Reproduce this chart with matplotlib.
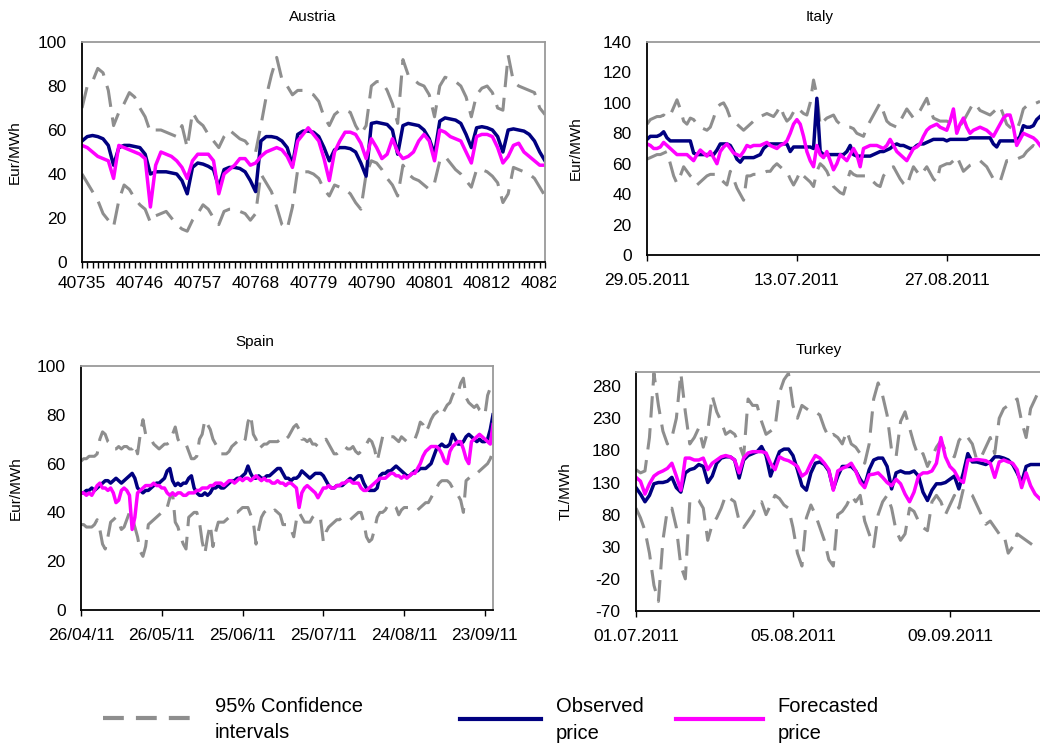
import numpy as np
import matplotlib
matplotlib.use("Agg")
import matplotlib.pyplot as plt
import matplotlib.dates as mdates
from matplotlib.ticker import MultipleLocator
from matplotlib.transforms import Bbox, TransformedBbox

plt.rcParams['font.family'] = ['Liberation Sans', 'DejaVu Sans']
plt.rcParams['axes.unicode_minus'] = False

# ---------------- data (one value per day) ----------------
# Austria, x axis is the Excel day number
at_start = 40735
at_obs = [55, 57, 57.5, 57, 56, 53, 44, 52, 53, 53,
          52.5, 52, 49, 40, 41, 41, 41, 40.5, 40, 37,
          31, 43, 45, 44.5, 43.5, 42, 34, 42, 43, 43,
          42.5, 41, 37, 32, 55, 57, 57, 56.5, 55, 52,
          44, 58, 59.5, 59.5, 59, 57, 52, 46, 51, 52,
          52, 51.5, 50, 45, 39, 63, 63.5, 63, 62.5, 60,
          49, 62, 63, 62.5, 62, 60, 56, 49, 64, 65.5,
          65, 64.5, 63, 58, 52, 61, 61.5, 61, 60, 57,
          50, 60, 60.5, 60, 59.5, 58, 55, 50, 46]
at_fc = [53, 52, 50, 48, 47, 46, 38, 53, 52, 51,
         50, 49, 47, 25, 44, 50, 49, 48, 46, 43,
         38, 46, 49, 49, 49, 46, 31, 40, 42, 44,
         47, 47, 44, 45, 48, 50, 51, 52, 51, 48,
         43, 55, 58, 61, 58, 55, 47, 37, 50, 55,
         59, 59, 58, 54, 47, 56, 52, 47, 49, 56,
         50, 47, 48, 50, 55, 58, 55, 46, 60, 59,
         57, 56, 55, 50, 45, 57, 58, 58, 57, 52,
         45, 48, 53, 54, 50, 48, 46, 44, 44]
at_up = [70, 80, 82, 88, 86, 78, 62, 68, 72, 77,
         75, 70, 66, 59, 60, 60, 59, 58, 57, 62,
         52, 68, 64, 62, 58, 55, 52, 57, 60, 58,
         56, 55, 52, 50, 62, 75, 85, 93, 83, 80,
         76, 78, 78, 77, 76, 73, 66, 62, 67, 69,
         69, 68, 62, 58, 62, 80, 82, 82, 78, 72,
         63, 92, 85, 83, 81, 80, 76, 66, 80, 84,
         83, 82, 80, 75, 66, 76, 79, 80, 77, 70,
         69, 94, 82, 80, 79, 78, 77, 70, 67]
at_lo = [40, 36, 32, 28, 22, 19, 16, 28, 35, 33,
         29, 26, 24, 18, 21, 22, 23, 20, 17, 15,
         14, 19, 22, 26, 24, 20, 17, 23, 24, 24,
         23, 22, 19, 22, 40, 36, 32, 25, 17, 15,
         25, 42, 41, 41, 40, 38, 33, 30, 35, 34,
         33, 31, 27, 24, 40, 46, 45, 42, 38, 35,
         30, 44, 40, 38, 37, 35, 33, 36, 46, 48,
         45, 42, 40, 37, 34, 42, 42, 41, 39, 36,
         27, 31, 43, 42, 41, 40, 38, 34, 30]

# Italy, daily from 29.05.2011
it_start = '2011-05-29'
it_obs = [76, 78, 78, 78, 79, 81, 77, 75, 75, 75,
          75, 75, 75, 75, 67, 66, 66, 66, 66, 66,
          66, 69, 73, 73, 73, 72, 68, 63, 61, 64,
          64, 64, 64, 65, 66, 70, 72, 73, 73, 73,
          73, 73, 73, 68, 71, 71, 71, 71, 71, 71,
          70, 103, 68, 66, 66, 66, 66, 66, 66, 66,
          68, 72, 66, 65, 65, 65, 65, 65, 66, 67,
          68, 68, 69, 70, 72, 73, 72, 72, 71, 70,
          70, 72, 73, 73, 74, 75, 76, 76, 76, 76,
          75, 76, 76, 76, 76, 76, 76, 77, 77, 77,
          77, 77, 77, 77, 73, 71, 75, 75, 75, 75,
          75, 75, 78, 85, 84, 84, 85, 89, 91]
it_fc = [73, 72, 70, 70, 71, 74, 72, 70, 68, 66,
         66, 66, 66, 64, 62, 66, 69, 67, 65, 68,
         64, 60, 68, 71, 73, 70, 67, 66, 65, 68,
         72, 71, 72, 72, 72, 73, 74, 72, 71, 70,
         72, 73, 75, 80, 86, 89, 86, 78, 68, 62,
         58, 72, 66, 64, 68, 62, 56, 60, 66, 64,
         62, 66, 70, 66, 58, 70, 71, 72, 72, 72,
         71, 70, 72, 76, 72, 68, 66, 64, 62, 66,
         70, 71, 73, 78, 82, 84, 85, 86, 84, 83,
         82, 88, 96, 80, 86, 90, 84, 80, 82, 83,
         84, 83, 82, 80, 78, 82, 86, 90, 92, 92,
         84, 72, 76, 80, 79, 78, 77, 75, 72]
it_up = [86, 89, 90, 91, 91, 92, 90, 92, 97, 102,
         96, 88, 86, 90, 89, 86, 84, 83, 82, 84,
         90, 97, 99, 100, 96, 90, 87, 86, 84, 82,
         84, 86, 88, 90, 91, 92, 93, 92, 91, 94,
         98, 92, 88, 90, 94, 97, 95, 93, 92, 100,
         115, 105, 85, 88, 90, 91, 92, 88, 86, 85,
         84, 84, 83, 80, 79, 78, 84, 88, 92, 96,
         100, 94, 88, 86, 85, 84, 88, 92, 96, 93,
         90, 92, 95, 99, 103, 96, 90, 89, 88, 88,
         88, 87, 86, 85, 85, 88, 92, 96, 100, 98,
         95, 94, 93, 92, 94, 96, 98, 92, 86, 84,
         83, 82, 88, 96, 98, 99, 99, 100, 101]
it_lo = [63, 64, 65, 66, 66, 67, 68, 60, 52, 47,
         52, 58, 55, 52, 50, 46, 48, 50, 52, 53,
         53, 53, 50, 48, 46, 55, 50, 44, 40, 36,
         52, 52, 53, 53, 53, 54, 55, 55, 58, 60,
         58, 56, 55, 50, 46, 50, 55, 52, 50, 48,
         45, 55, 60, 58, 55, 50, 45, 43, 41, 40,
         48, 55, 53, 52, 52, 52, 52, 50, 48, 46,
         45, 52, 55, 57, 58, 54, 50, 47, 45, 52,
         58, 55, 52, 55, 58, 54, 50, 48, 58, 59,
         60, 60, 62, 65, 60, 55, 57, 59, 60, 61,
         62, 60, 58, 54, 50, 49, 48, 55, 62, 62,
         63, 63, 64, 65, 68, 70, 72, 70, 68]

# Spain, daily from 26/04/11
sp_start = '2011-04-26'
sp_obs = [48, 48, 49, 49, 50, 49, 50, 51,
          52, 53, 53, 52, 53, 54, 53, 52,
          53, 54, 55, 56, 54, 50, 49, 48,
          49, 49, 50, 51, 52, 52, 53, 54,
          57, 58, 53, 51, 52, 51, 52, 52,
          54, 55, 50, 48, 47, 47, 48, 47,
          48, 50, 50, 51, 50, 50, 51, 52,
          53, 53, 54, 54, 55, 56, 59, 56,
          54, 54, 55, 54, 54, 55, 55, 56,
          57, 58, 58, 56, 54, 54, 53, 54,
          54, 55, 57, 56, 55, 54, 55, 56,
          56, 56, 55, 53, 51, 50, 50, 51,
          51, 51, 52, 53, 54, 53, 54, 55,
          55, 52, 50, 49, 49, 49, 50, 55,
          56, 56, 57, 57, 58, 59, 58, 57,
          56, 55, 55, 56, 57, 57, 58, 58,
          58, 59, 60, 63, 66, 67, 68, 67,
          67, 68, 72, 70, 68, 68, 69, 71,
          72, 71, 70, 69, 70, 69, 69, 70,
          74, 80]
sp_fc = [48, 48, 47, 48, 47, 49, 51, 52,
         50, 50, 49, 50, 48, 44, 45, 49,
         50, 49, 47, 33, 38, 48, 49, 50,
         51, 51, 51, 52, 51, 51, 50, 50,
         48, 47, 48, 47, 48, 48, 47, 47,
         48, 48, 48, 49, 49, 50, 50, 50,
         51, 51, 52, 52, 52, 51, 52, 53,
         53, 52, 53, 54, 53, 54, 54, 53,
         54, 55, 54, 53, 54, 53, 53, 52,
         52, 53, 52, 52, 51, 52, 52, 51,
         50, 42, 48, 50, 51, 50, 49, 48,
         46, 48, 50, 50, 51, 50, 50, 51,
         51, 52, 52, 53, 53, 52, 52, 52,
         50, 49, 49, 50, 51, 52, 53, 54,
         54, 54, 55, 56, 56, 55, 55, 54,
         55, 54, 55, 56, 56, 58, 60, 63,
         65, 66, 67, 67, 67, 66, 64, 61,
         60, 65, 67, 68, 69, 69, 66, 62,
         60, 69, 70, 71, 72, 71, 70, 69,
         68, 76]
sp_up = [61, 62, 62, 63, 63, 63, 64, 70,
         73, 72, 69, 68, 66, 66, 67, 66,
         67, 67, 66, 66, 68, 64, 72, 78,
         72, 71, 70, 68, 67, 66, 67, 68,
         68, 69, 72, 75, 70, 68, 68, 68,
         65, 62, 62, 63, 70, 72, 78, 76,
         74, 70, 68, 66, 64, 64, 64, 65,
         67, 68, 69, 69, 68, 70, 77, 80,
         72, 70, 66, 67, 68, 68, 69, 69,
         69, 69, 70, 71, 70, 71, 73, 75,
         76, 74, 70, 70, 69, 70, 68, 68,
         67, 68, 69, 70, 68, 66, 64, 64,
         65, 66, 67, 66, 66, 67, 65, 64,
         65, 66, 68, 70, 69, 66, 61, 66,
         71, 71, 70, 71, 71, 70, 69, 71,
         70, 69, 69, 69, 70, 73, 77, 76,
         73, 75, 78, 80, 81, 82, 80, 82,
         84, 85, 88, 90, 89, 93, 95, 87,
         85, 84, 83, 84, 82, 81, 80, 88,
         91, 92]
sp_lo = [35, 35, 34, 34, 34, 35, 37, 33,
         27, 25, 30, 36, 37, 38, 36, 33,
         34, 37, 40, 38, 34, 30, 24, 22,
         26, 35, 36, 37, 38, 39, 40, 40,
         42, 46, 48, 36, 34, 30, 27, 25,
         38, 39, 40, 40, 36, 28, 23, 30,
         35, 26, 32, 36, 36, 36, 37, 38,
         39, 40, 40, 41, 42, 42, 42, 39,
         36, 27, 33, 38, 40, 41, 40, 40,
         41, 40, 39, 35, 35, 35, 33, 30,
         37, 40, 38, 36, 36, 36, 38, 39,
         39, 37, 28, 32, 34, 35, 36, 37,
         37, 38, 38, 38, 37, 38, 39, 40,
         40, 36, 30, 28, 29, 33, 38, 40,
         40, 41, 43, 43, 43, 42, 39, 41,
         42, 42, 42, 42, 42, 41, 42, 43,
         44, 44, 46, 48, 50, 52, 53, 53,
         53, 52, 50, 48, 47, 45, 40, 53,
         54, 55, 55, 56, 57, 58, 59, 60,
         62, 65]

# Turkey, daily from 01.07.2011
tr_start = '2011-07-01'
tr_obs = [122, 112, 100, 110, 128, 130, 130, 132, 138, 122,
          115, 145, 150, 152, 158, 155, 130, 140, 160, 168,
          170, 170, 165, 137, 165, 172, 175, 178, 186, 172,
          140, 160, 178, 182, 182, 172, 150, 125, 118, 145,
          160, 162, 158, 148, 120, 140, 155, 155, 155, 148,
          135, 125, 150, 165, 168, 168, 155, 120, 145, 148,
          145, 145, 148, 140, 115, 102, 118, 128, 128, 130,
          135, 140, 120, 145, 175, 162, 162, 160, 158, 162,
          170, 170, 168, 165, 158, 145, 130, 155, 158, 158,
          158]
tr_fc = [138, 132, 112, 128, 140, 145, 148, 152, 160, 140,
         118, 168, 168, 165, 165, 168, 150, 160, 165, 170,
         172, 170, 165, 145, 168, 176, 178, 178, 178, 176,
         160, 150, 170, 166, 164, 160, 155, 140, 145, 160,
         172, 168, 160, 150, 118, 148, 152, 155, 160, 148,
         130, 122, 142, 143, 145, 138, 130, 125, 135, 128,
         112, 100, 115, 140, 145, 145, 148, 160, 200, 170,
         155, 148, 135, 130, 165, 165, 166, 165, 164, 160,
         138, 162, 165, 162, 160, 150, 122, 145, 125, 112,
         105]
tr_up = [150, 145, 148, 200, 300, 250, 210, 190, 200, 230,
         300, 240, 190, 200, 215, 185, 210, 265, 240, 225,
         205, 210, 205, 190, 170, 260, 250, 250, 225, 205,
         210, 215, 270, 290, 300, 250, 230, 250, 245, 240,
         240, 235, 215, 200, 205, 200, 190, 210, 190, 185,
         175, 160, 190, 260, 285, 265, 235, 180, 170, 225,
         240, 215, 190, 170, 175, 155, 170, 185, 195, 180,
         175, 170, 195, 205, 200, 190, 165, 170, 185, 200,
         175, 230, 245, 250, 255, 260, 225, 200, 245, 260,
         275]
tr_lo = [90, 75, 55, 20, -30, -55, 40, 88, 90, 60,
         0, -20, 100, 105, 102, 90, 40, 65, 75, 90,
         110, 105, 100, 70, 60, 70, 80, 95, 100, 80,
         95, 110, 105, 95, 90, 60, 20, 0, 75, 95,
         80, 60, 40, 10, 0, 80, 85, 95, 110, 100,
         110, 70, 50, 30, 80, 100, 110, 90, 55, 40,
         50, 90, 85, 70, 60, 55, 100, 110, 100, 80,
         95, 110, 90, 120, 115, 110, 95, 80, 65, 70,
         60, 50, 50, 20, 30, 50, 45, 40, 35, 30,
         25]

# ---------------- figure ----------------
W, H = 1040, 747
fig = plt.figure(figsize=(W / 100, H / 100), dpi=100)

CI_C = '#8e8e8e'
OBS_C = '#000080'
FC_C = '#ff00ff'


def px_axes(l, t, r, b):
    return fig.add_axes([l / W, 1 - b / H, (r - l) / W, (b - t) / H])


def draw(ax, x, lo, up, obs, fc, ylabel, ylab_x):
    ci, = ax.plot(x, up, color=CI_C, lw=2.2, dashes=(7, 3.5))
    ax.plot(x, lo, color=CI_C, lw=2.2, dashes=(7, 3.5))
    ob, = ax.plot(x, obs, color=OBS_C, lw=2.5)
    fcl, = ax.plot(x, fc, color=FC_C, lw=2.5)
    for s in ['left', 'bottom']:
        ax.spines[s].set_color('black')
        ax.spines[s].set_linewidth(1.3)
    for s in ['top', 'right']:
        ax.spines[s].set_color('#9a9a9a')
        ax.spines[s].set_linewidth(1.3)
    ax.tick_params(axis='y', length=0, pad=11, labelsize=12.5)
    ax.tick_params(axis='x', which='both', direction='out', length=4,
                   width=1, labelsize=12.5)
    ax.set_ylabel(ylabel, fontsize=11)
    ax.yaxis.set_label_coords(ylab_x, 0.5)
    return ci, ob, fcl


# Austria
ax1 = px_axes(82, 42, 545, 262)
at_x = np.arange(at_start, at_start + len(at_obs))
handles = draw(ax1, at_x, at_lo, at_up, at_obs, at_fc, 'Eur/MWh', -0.13)
ax1.set_xlim(at_x[0], at_x[-1])
ax1.set_ylim(0, 100)
ax1.set_yticks(np.arange(0, 101, 20))
ax1.set_xticks(np.arange(at_x[0], at_x[-1] + 1, 11))
ax1.xaxis.set_minor_locator(MultipleLocator(1))
ax1.tick_params(axis='x', which='both', pad=6)

# Italy
ax2 = px_axes(647, 42, 1060, 255)
it_x = np.datetime64(it_start) + np.arange(len(it_obs))
draw(ax2, it_x, it_lo, it_up, it_obs, it_fc, 'Eur/MWh', -0.155)
ax2.set_xlim(it_x[0], it_x[0] + np.timedelta64(124, 'D'))
ax2.set_ylim(0, 140)
ax2.set_yticks(np.arange(0, 141, 20))
ax2.set_xticks(it_x[0] + np.arange(0, 124, 45))
ax2.xaxis.set_major_formatter(mdates.DateFormatter('%d.%m.%Y'))
ax2.tick_params(axis='x', pad=9)

# Spain
ax3 = px_axes(81, 366, 493, 610)
sp_x = np.datetime64(sp_start) + np.arange(len(sp_obs))
draw(ax3, sp_x, sp_lo, sp_up, sp_obs, sp_fc, 'Eur/MWh', -0.1425)
ax3.set_xlim(sp_x[0], sp_x[0] + np.timedelta64(153, 'D'))
ax3.set_ylim(0, 100)
ax3.set_yticks(np.arange(0, 101, 20))
ax3.set_xticks(sp_x[0] + np.arange(0, 153, 30))
ax3.xaxis.set_major_formatter(mdates.DateFormatter('%d/%m/%y'))
ax3.tick_params(axis='x', pad=9)

# Turkey
ax4 = px_axes(636, 372, 1062, 611)
tr_x = np.datetime64(tr_start) + np.arange(len(tr_obs))
draw(ax4, tr_x, tr_lo, tr_up, tr_obs, tr_fc, 'TL/MWh', -0.148)
ax4.set_xlim(tr_x[0], tr_x[0] + np.timedelta64(95, 'D'))
ax4.set_ylim(-70, 302)
ax4.set_yticks(np.arange(-70, 281, 50))
ax4.set_xticks(tr_x[0] + np.arange(0, 95, 35))
ax4.xaxis.set_major_formatter(mdates.DateFormatter('%d.%m.%Y'))
ax4.tick_params(axis='x', pad=9)

# titles
fig.text(313 / W, 1 - 17 / H, 'Austria', ha='center', va='center', fontsize=11)
fig.text(820 / W, 1 - 17 / H, 'Italy', ha='center', va='center', fontsize=11)
fig.text(255 / W, 1 - 342 / H, 'Spain', ha='center', va='center', fontsize=11)
fig.text(819 / W, 1 - 350 / H, 'Turkey', ha='center', va='center', fontsize=11)

# legend, one entry per block as in the original
ci, ob, fcl = handles
leg_kw = dict(loc='center left', frameon=False, borderpad=0, borderaxespad=0,
              fontsize=14.5, handleheight=1.3)
legs = [
    fig.legend([ci], ['95% Confidence\nintervals'],
               bbox_to_anchor=(103 / W, 1 - 719.5 / H),
               handlelength=4.3, handletextpad=1.25, **leg_kw),
    fig.legend([ob], ['Observed\nprice'],
               bbox_to_anchor=(460 / W, 1 - 720 / H),
               handlelength=4.0, handletextpad=0.75, **leg_kw),
    fig.legend([fcl], ['Forecasted\nprice'],
               bbox_to_anchor=(676 / W, 1 - 720 / H),
               handlelength=4.3, handletextpad=0.75, **leg_kw),
]
for lg in legs:
    for t in lg.get_texts():
        t.set_linespacing(1.5)
    for ln in lg.get_lines():
        ln.set_linewidth(3)
# three short dashes in the confidence-interval sample
legs[0].get_lines()[0].set_dashes((5, 2.9))

# the chart object in the original ends at x ~ 556, so the last label is cut
fig.canvas.draw()
clip = TransformedBbox(Bbox([[0, 0], [556 / W, 1]]), fig.transFigure)
for lbl in ax1.get_xticklabels():
    lbl.set_clip_box(clip)
    lbl.set_clip_on(True)

fig.savefig('out.png', dpi=100)
